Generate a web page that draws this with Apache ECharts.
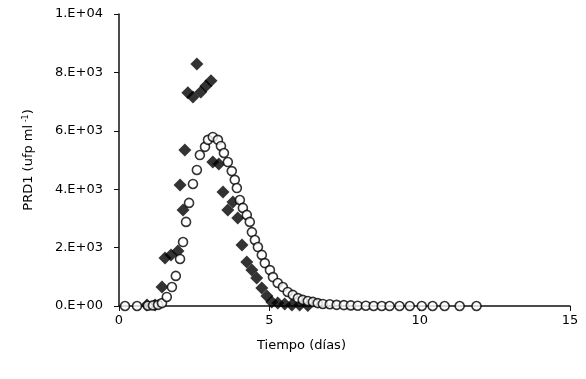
<!DOCTYPE html>
<html><head><meta charset="utf-8">
<script src="https://cdn.jsdelivr.net/npm/echarts@6/dist/echarts.min.js"></script>
<style>html,body{margin:0;padding:0;background:#fff}#c{width:586px;height:379px}</style>
</head><body><div id="c"></div>
<script>
const yTicks = ["0.E+00","2.E+03","4.E+03","6.E+03","8.E+03","1.E+04"];
const xTicks = ["0","5","10","15"];
// Experimental data (filled diamonds): [day, ufp/ml]
const expDays = [0.93,1.20,1.43,1.53,1.73,1.96,2.13,2.03,2.19,2.29,2.46,2.59,2.72,2.89,3.06,3.12,3.32,3.46,3.62,3.79,3.95,4.09,4.25,4.42,4.58,4.75,4.92,5.08,5.28,5.51,5.75,6.01,6.28];
const expVals = [30,30,650,1640,1750,1880,3290,4140,5340,7300,7160,8290,7330,7530,7710,4930,4860,3900,3290,3560,3010,2090,1510,1230,960,620,340,140,100,70,30,30,20];
// Model data (open circles)
const modDays = [0.20,0.60,0.96,1.13,1.30,1.43,1.59,1.76,1.89,2.03,2.13,2.23,2.33,2.46,2.59,2.69,2.86,2.96,3.12,3.29,3.39,3.49,3.62,3.75,3.85,3.92,4.02,4.12,4.25,4.35,4.42,4.52,4.62,4.75,4.85,5.02,5.12,5.28,5.45,5.61,5.78,5.95,6.11,6.28,6.45,6.61,6.78,7.01,7.24,7.48,7.71,7.94,8.21,8.47,8.74,9.00,9.33,9.67,10.07,10.43,10.83,11.33,11.89];
const modVals = [0,0,10,20,40,100,310,650,1030,1610,2190,2880,3530,4180,4660,5170,5450,5690,5790,5690,5480,5240,4930,4620,4320,4040,3630,3360,3120,2880,2530,2260,2020,1750,1470,1230,990,790,650,480,380,270,210,170,140,100,70,60,40,30,20,10,10,0,0,0,0,0,0,0,0,0,0];

const expData = expDays.map((d,i)=>[d,expVals[i]]);
const modData = modDays.map((d,i)=>[d,modVals[i]]);

const chart = echarts.init(document.getElementById('c'));
const font = 'DejaVu Sans, Liberation Sans, Arial, sans-serif';
chart.setOption({
  animation:false,
  grid:{left:119,right:16,top:14,bottom:73},
  xAxis:{type:'value',min:0,max:15,interval:5,
    name:'Tiempo (días)',nameLocation:'middle',nameGap:33,
    nameTextStyle:{color:'#000',fontSize:13,fontFamily:font,padding:[0,86,0,0]},
    axisLine:{lineStyle:{color:'#111',width:1.5}},
    axisTick:{show:true,inside:false,length:5,lineStyle:{color:'#111'}},
    axisLabel:{color:'#000',fontSize:13,fontFamily:font,margin:8,formatter:v=>xTicks[v/5]},
    splitLine:{show:false}},
  yAxis:{type:'value',min:0,max:10000,interval:2000,
    name:'{a|PRD1 (ufp ml}{s| -1}{a|)}',nameLocation:'middle',nameGap:83,nameRotate:90,
    nameTextStyle:{color:'#000',fontFamily:font,rich:{a:{fontSize:13,fontFamily:font,color:'#000'},s:{fontSize:8,fontFamily:font,color:'#000',verticalAlign:'top',padding:[0,0,6,0]}}},
    axisLine:{show:true,lineStyle:{color:'#111',width:1.5}},
    axisTick:{show:true,length:5,lineStyle:{color:'#111'}},
    axisLabel:{color:'#000',fontSize:13,fontFamily:font,margin:16,formatter:v=>yTicks[v/2000]},
    splitLine:{show:false}},
  series:[
    {type:'scatter',data:expData,symbol:'diamond',symbolSize:13,itemStyle:{color:'#000'}},
    {type:'scatter',data:modData,symbol:'circle',symbolSize:9,itemStyle:{color:'#fff',borderColor:'#000',borderWidth:1.6}}
  ]
});
</script></body></html>
